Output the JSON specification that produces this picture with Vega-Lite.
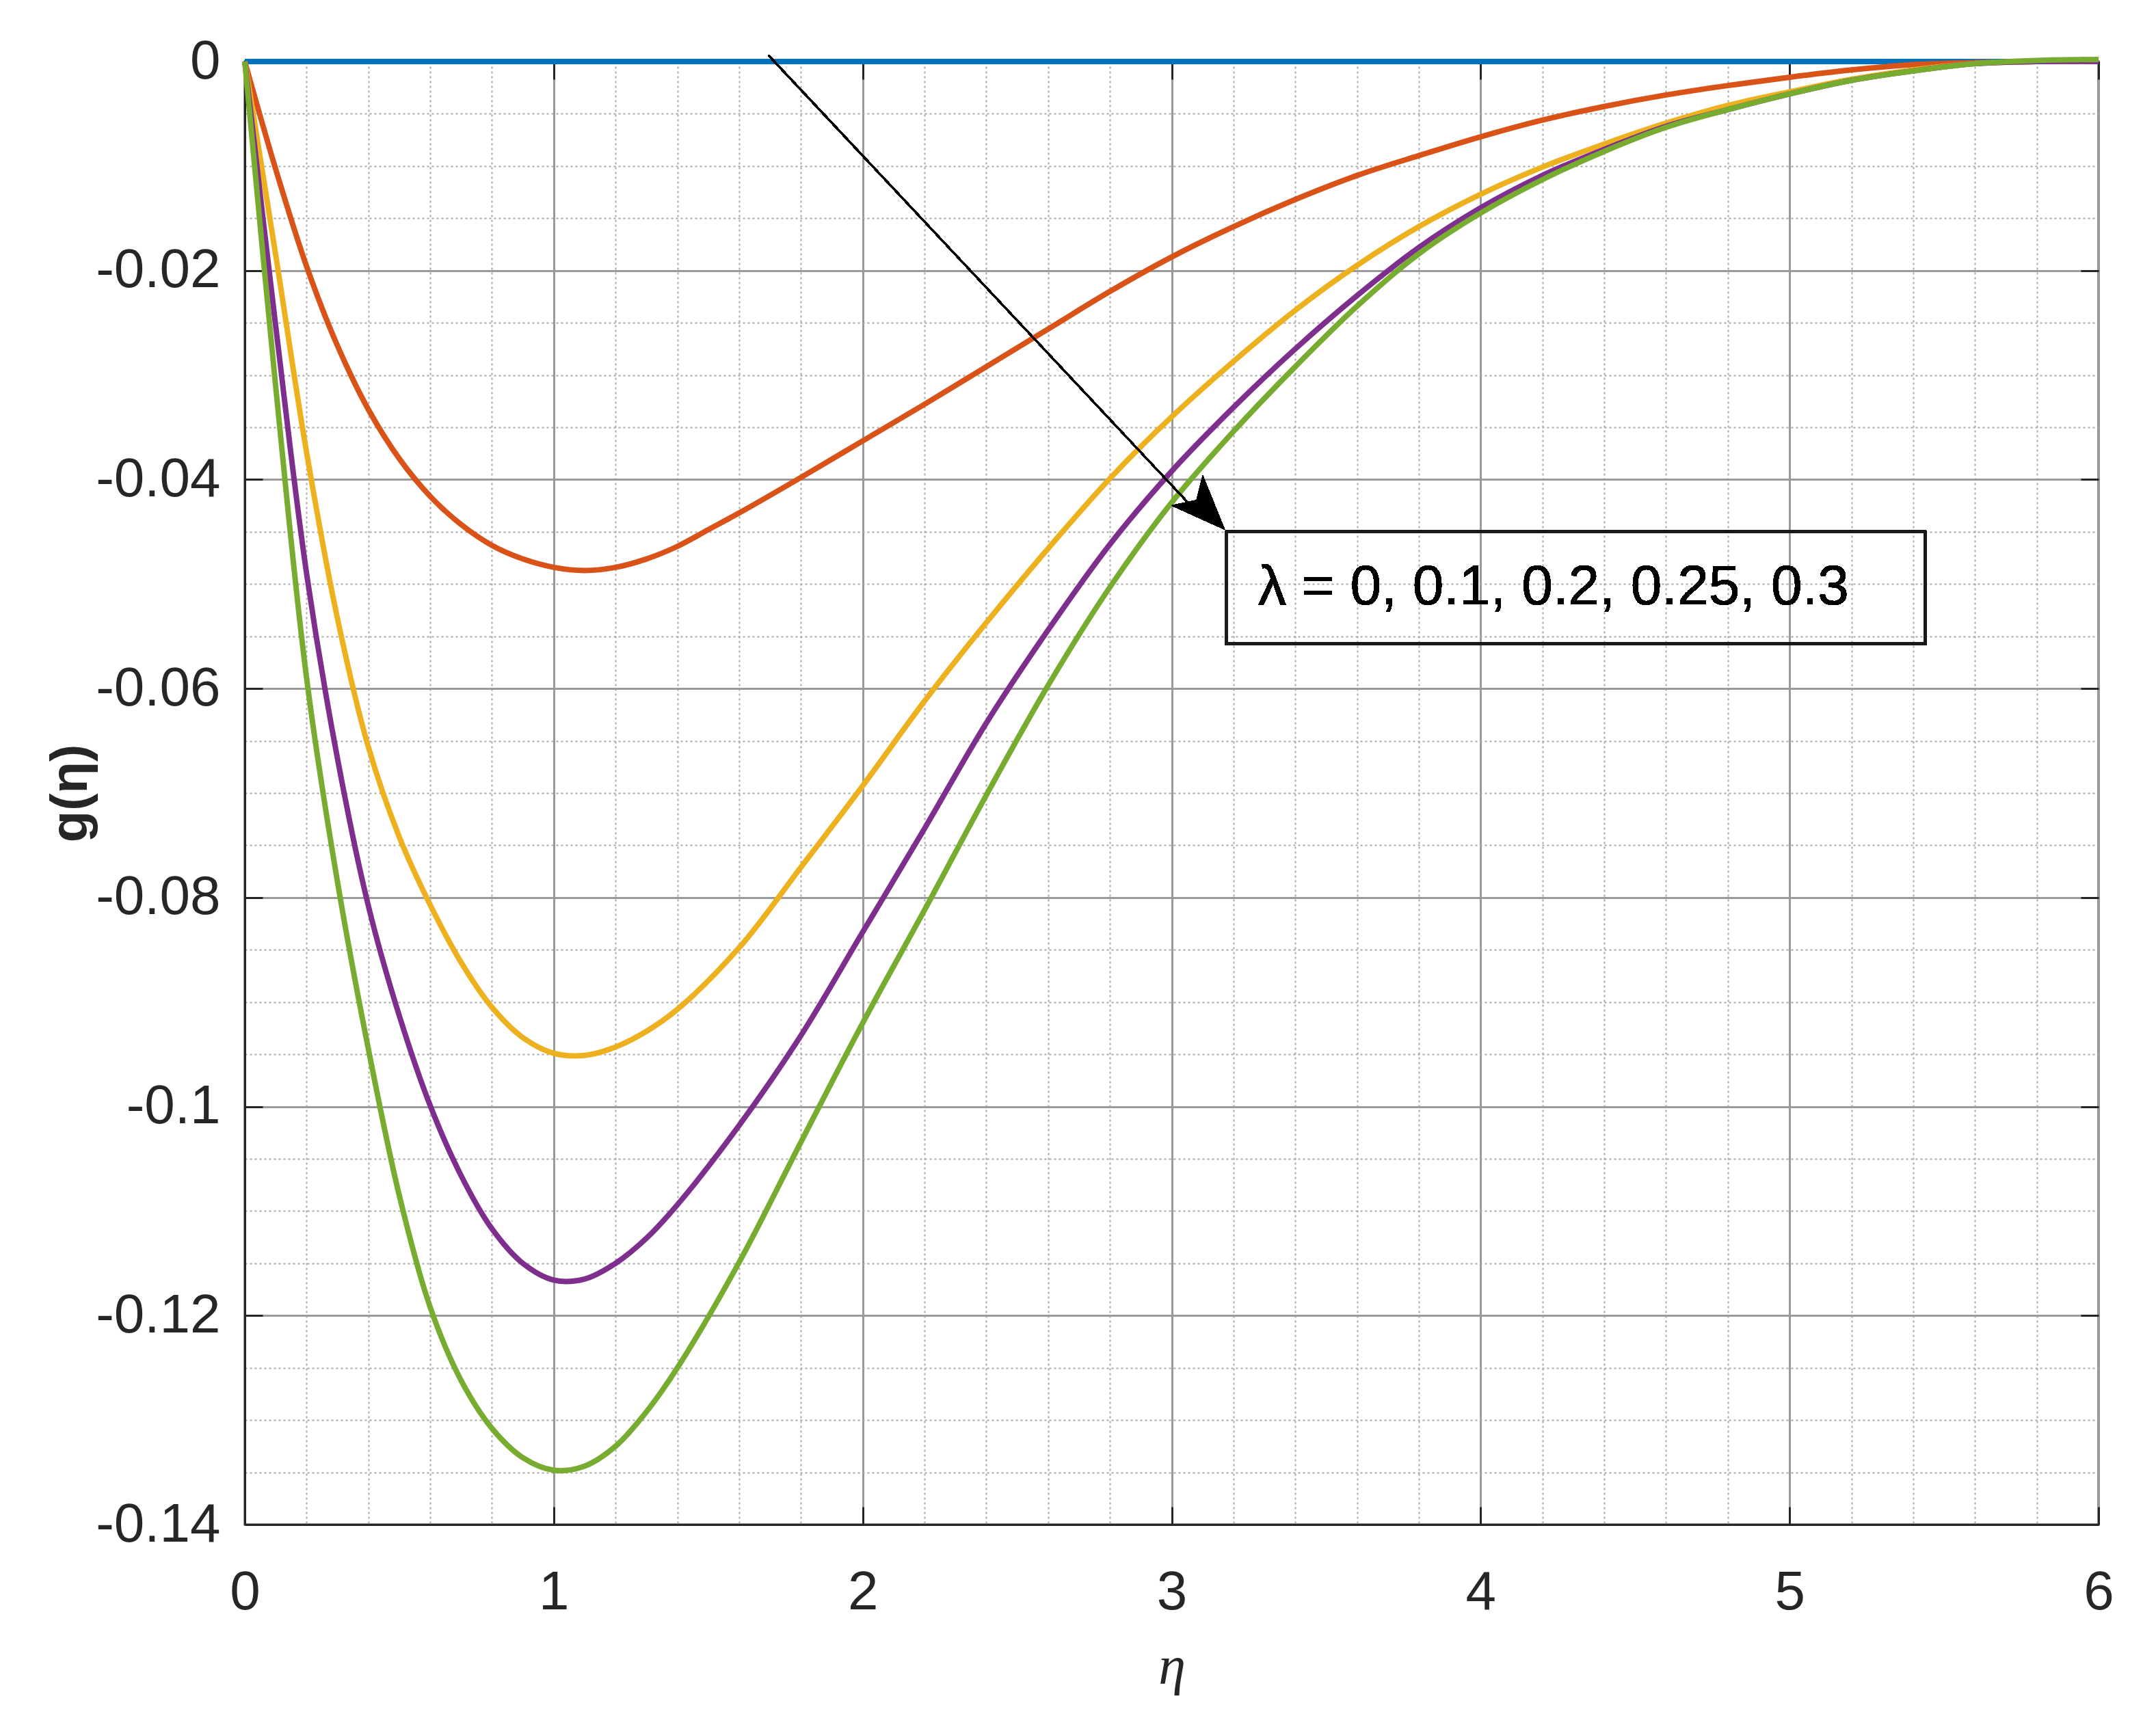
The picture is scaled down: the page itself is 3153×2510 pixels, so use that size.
{
  "$schema": "https://vega.github.io/schema/vega-lite/v6.json",
  "autosize": "none",
  "width": 2711,
  "height": 2140,
  "padding": {"left": 358, "top": 90, "right": 84, "bottom": 280},
  "background": "white",
  "config": {
    "font": "Liberation Sans",
    "view": {"stroke": "#262626", "strokeWidth": 3}
  },
  "data": {
    "values": [
      {"eta": 0, "g": 0, "lam": "0"},
      {"eta": 1, "g": 0, "lam": "0"},
      {"eta": 2, "g": 0, "lam": "0"},
      {"eta": 3, "g": 0, "lam": "0"},
      {"eta": 4, "g": 0, "lam": "0"},
      {"eta": 5, "g": 0, "lam": "0"},
      {"eta": 6, "g": 0, "lam": "0"},

      {"eta": 0, "g": 0, "lam": "0.1"},
      {"eta": 0.1, "g": -0.0103, "lam": "0.1"},
      {"eta": 0.2, "g": -0.0196, "lam": "0.1"},
      {"eta": 0.3, "g": -0.0272, "lam": "0.1"},
      {"eta": 0.4, "g": -0.0333, "lam": "0.1"},
      {"eta": 0.5, "g": -0.0380, "lam": "0.1"},
      {"eta": 0.6, "g": -0.0416, "lam": "0.1"},
      {"eta": 0.7, "g": -0.0443, "lam": "0.1"},
      {"eta": 0.8, "g": -0.0463, "lam": "0.1"},
      {"eta": 0.9, "g": -0.0476, "lam": "0.1"},
      {"eta": 1.0, "g": -0.0484, "lam": "0.1"},
      {"eta": 1.1, "g": -0.0487, "lam": "0.1"},
      {"eta": 1.2, "g": -0.0484, "lam": "0.1"},
      {"eta": 1.3, "g": -0.0476, "lam": "0.1"},
      {"eta": 1.4, "g": -0.0464, "lam": "0.1"},
      {"eta": 1.5, "g": -0.0448, "lam": "0.1"},
      {"eta": 1.6, "g": -0.0432, "lam": "0.1"},
      {"eta": 1.8, "g": -0.0398, "lam": "0.1"},
      {"eta": 2.0, "g": -0.0363, "lam": "0.1"},
      {"eta": 2.2, "g": -0.0328, "lam": "0.1"},
      {"eta": 2.4, "g": -0.0292, "lam": "0.1"},
      {"eta": 2.6, "g": -0.0256, "lam": "0.1"},
      {"eta": 2.8, "g": -0.0220, "lam": "0.1"},
      {"eta": 3.0, "g": -0.0187, "lam": "0.1"},
      {"eta": 3.2, "g": -0.0158, "lam": "0.1"},
      {"eta": 3.4, "g": -0.0132, "lam": "0.1"},
      {"eta": 3.6, "g": -0.0109, "lam": "0.1"},
      {"eta": 3.8, "g": -0.0090, "lam": "0.1"},
      {"eta": 4.0, "g": -0.0072, "lam": "0.1"},
      {"eta": 4.2, "g": -0.0056, "lam": "0.1"},
      {"eta": 4.4, "g": -0.0043, "lam": "0.1"},
      {"eta": 4.6, "g": -0.0032, "lam": "0.1"},
      {"eta": 4.8, "g": -0.0023, "lam": "0.1"},
      {"eta": 5.0, "g": -0.0015, "lam": "0.1"},
      {"eta": 5.2, "g": -0.0008, "lam": "0.1"},
      {"eta": 5.4, "g": -0.0003, "lam": "0.1"},
      {"eta": 5.6, "g": -0.0001, "lam": "0.1"},
      {"eta": 5.8, "g": 0, "lam": "0.1"},
      {"eta": 6.0, "g": 0, "lam": "0.1"},

      {"eta": 0, "g": 0, "lam": "0.2"},
      {"eta": 0.1, "g": -0.0185, "lam": "0.2"},
      {"eta": 0.2, "g": -0.0374, "lam": "0.2"},
      {"eta": 0.3, "g": -0.0533, "lam": "0.2"},
      {"eta": 0.4, "g": -0.0656, "lam": "0.2"},
      {"eta": 0.5, "g": -0.0742, "lam": "0.2"},
      {"eta": 0.6, "g": -0.0807, "lam": "0.2"},
      {"eta": 0.7, "g": -0.0862, "lam": "0.2"},
      {"eta": 0.8, "g": -0.0905, "lam": "0.2"},
      {"eta": 0.9, "g": -0.0934, "lam": "0.2"},
      {"eta": 1.0, "g": -0.0949, "lam": "0.2"},
      {"eta": 1.1, "g": -0.0951, "lam": "0.2"},
      {"eta": 1.2, "g": -0.0943, "lam": "0.2"},
      {"eta": 1.3, "g": -0.0928, "lam": "0.2"},
      {"eta": 1.4, "g": -0.0907, "lam": "0.2"},
      {"eta": 1.6, "g": -0.0848, "lam": "0.2"},
      {"eta": 1.8, "g": -0.0771, "lam": "0.2"},
      {"eta": 2.0, "g": -0.0693, "lam": "0.2"},
      {"eta": 2.2, "g": -0.0612, "lam": "0.2"},
      {"eta": 2.4, "g": -0.0537, "lam": "0.2"},
      {"eta": 2.6, "g": -0.0466, "lam": "0.2"},
      {"eta": 2.8, "g": -0.0399, "lam": "0.2"},
      {"eta": 3.0, "g": -0.0340, "lam": "0.2"},
      {"eta": 3.2, "g": -0.0287, "lam": "0.2"},
      {"eta": 3.4, "g": -0.0238, "lam": "0.2"},
      {"eta": 3.6, "g": -0.0195, "lam": "0.2"},
      {"eta": 3.8, "g": -0.0158, "lam": "0.2"},
      {"eta": 4.0, "g": -0.0127, "lam": "0.2"},
      {"eta": 4.2, "g": -0.0101, "lam": "0.2"},
      {"eta": 4.4, "g": -0.0079, "lam": "0.2"},
      {"eta": 4.6, "g": -0.0059, "lam": "0.2"},
      {"eta": 4.8, "g": -0.0042, "lam": "0.2"},
      {"eta": 5.0, "g": -0.0029, "lam": "0.2"},
      {"eta": 5.2, "g": -0.0017, "lam": "0.2"},
      {"eta": 5.4, "g": -0.0008, "lam": "0.2"},
      {"eta": 5.6, "g": -0.0002, "lam": "0.2"},
      {"eta": 5.8, "g": 0, "lam": "0.2"},
      {"eta": 6.0, "g": 0, "lam": "0.2"},

      {"eta": 0, "g": 0, "lam": "0.25"},
      {"eta": 0.1, "g": -0.0253, "lam": "0.25"},
      {"eta": 0.2, "g": -0.0490, "lam": "0.25"},
      {"eta": 0.3, "g": -0.0667, "lam": "0.25"},
      {"eta": 0.4, "g": -0.0808, "lam": "0.25"},
      {"eta": 0.5, "g": -0.0913, "lam": "0.25"},
      {"eta": 0.6, "g": -0.0999, "lam": "0.25"},
      {"eta": 0.7, "g": -0.1066, "lam": "0.25"},
      {"eta": 0.8, "g": -0.1117, "lam": "0.25"},
      {"eta": 0.9, "g": -0.1150, "lam": "0.25"},
      {"eta": 1.0, "g": -0.1166, "lam": "0.25"},
      {"eta": 1.1, "g": -0.1165, "lam": "0.25"},
      {"eta": 1.2, "g": -0.1150, "lam": "0.25"},
      {"eta": 1.3, "g": -0.1126, "lam": "0.25"},
      {"eta": 1.4, "g": -0.1094, "lam": "0.25"},
      {"eta": 1.6, "g": -0.1018, "lam": "0.25"},
      {"eta": 1.8, "g": -0.0932, "lam": "0.25"},
      {"eta": 2.0, "g": -0.0833, "lam": "0.25"},
      {"eta": 2.2, "g": -0.0734, "lam": "0.25"},
      {"eta": 2.4, "g": -0.0633, "lam": "0.25"},
      {"eta": 2.6, "g": -0.0544, "lam": "0.25"},
      {"eta": 2.8, "g": -0.0462, "lam": "0.25"},
      {"eta": 3.0, "g": -0.0392, "lam": "0.25"},
      {"eta": 3.2, "g": -0.0331, "lam": "0.25"},
      {"eta": 3.4, "g": -0.0275, "lam": "0.25"},
      {"eta": 3.6, "g": -0.0224, "lam": "0.25"},
      {"eta": 3.8, "g": -0.0178, "lam": "0.25"},
      {"eta": 4.0, "g": -0.0140, "lam": "0.25"},
      {"eta": 4.2, "g": -0.0109, "lam": "0.25"},
      {"eta": 4.4, "g": -0.0084, "lam": "0.25"},
      {"eta": 4.6, "g": -0.0062, "lam": "0.25"},
      {"eta": 4.8, "g": -0.0046, "lam": "0.25"},
      {"eta": 5.0, "g": -0.0031, "lam": "0.25"},
      {"eta": 5.2, "g": -0.0018, "lam": "0.25"},
      {"eta": 5.4, "g": -0.0009, "lam": "0.25"},
      {"eta": 5.6, "g": -0.0002, "lam": "0.25"},
      {"eta": 5.8, "g": 0, "lam": "0.25"},
      {"eta": 6.0, "g": 0, "lam": "0.25"},

      {"eta": 0, "g": 0, "lam": "0.3"},
      {"eta": 0.1, "g": -0.0311, "lam": "0.3"},
      {"eta": 0.2, "g": -0.0590, "lam": "0.3"},
      {"eta": 0.3, "g": -0.0785, "lam": "0.3"},
      {"eta": 0.4, "g": -0.0945, "lam": "0.3"},
      {"eta": 0.5, "g": -0.1085, "lam": "0.3"},
      {"eta": 0.6, "g": -0.1192, "lam": "0.3"},
      {"eta": 0.7, "g": -0.1262, "lam": "0.3"},
      {"eta": 0.8, "g": -0.1308, "lam": "0.3"},
      {"eta": 0.9, "g": -0.1336, "lam": "0.3"},
      {"eta": 1.0, "g": -0.1348, "lam": "0.3"},
      {"eta": 1.1, "g": -0.1344, "lam": "0.3"},
      {"eta": 1.2, "g": -0.1325, "lam": "0.3"},
      {"eta": 1.3, "g": -0.1292, "lam": "0.3"},
      {"eta": 1.4, "g": -0.1250, "lam": "0.3"},
      {"eta": 1.6, "g": -0.1149, "lam": "0.3"},
      {"eta": 1.8, "g": -0.1034, "lam": "0.3"},
      {"eta": 2.0, "g": -0.0920, "lam": "0.3"},
      {"eta": 2.2, "g": -0.0812, "lam": "0.3"},
      {"eta": 2.4, "g": -0.0702, "lam": "0.3"},
      {"eta": 2.6, "g": -0.0597, "lam": "0.3"},
      {"eta": 2.8, "g": -0.0503, "lam": "0.3"},
      {"eta": 3.0, "g": -0.0422, "lam": "0.3"},
      {"eta": 3.2, "g": -0.0354, "lam": "0.3"},
      {"eta": 3.4, "g": -0.0292, "lam": "0.3"},
      {"eta": 3.6, "g": -0.0234, "lam": "0.3"},
      {"eta": 3.8, "g": -0.0184, "lam": "0.3"},
      {"eta": 4.0, "g": -0.0145, "lam": "0.3"},
      {"eta": 4.2, "g": -0.0113, "lam": "0.3"},
      {"eta": 4.4, "g": -0.0086, "lam": "0.3"},
      {"eta": 4.6, "g": -0.0063, "lam": "0.3"},
      {"eta": 4.8, "g": -0.0046, "lam": "0.3"},
      {"eta": 5.0, "g": -0.0031, "lam": "0.3"},
      {"eta": 5.2, "g": -0.0018, "lam": "0.3"},
      {"eta": 5.4, "g": -0.0009, "lam": "0.3"},
      {"eta": 5.6, "g": -0.0002, "lam": "0.3"},
      {"eta": 5.8, "g": 0.0001, "lam": "0.3"},
      {"eta": 6.0, "g": 0.0002, "lam": "0.3"}
    ]
  },
  "resolve": {"axis": {"x": "independent", "y": "independent"}},
  "layer": [
    {
      "mark": {"type": "line", "opacity": 0},
      "encoding": {
        "x": {
          "field": "eta", "type": "quantitative",
          "scale": {"domain": [0, 6], "nice": false, "zero": false},
          "axis": {
            "orient": "bottom",
            "values": [0, 0.2, 0.4, 0.6, 0.8, 1, 1.2, 1.4, 1.6, 1.8, 2, 2.2, 2.4, 2.6, 2.8, 3, 3.2, 3.4, 3.6, 3.8, 4, 4.2, 4.4, 4.6, 4.8, 5, 5.2, 5.4, 5.6, 5.8, 6],
            "labels": false, "ticks": false, "domain": false, "title": null,
            "grid": true, "gridColor": "#a6a6a6", "gridWidth": 2, "gridDash": [3, 4]
          }
        },
        "y": {
          "field": "g", "type": "quantitative",
          "scale": {"domain": [-0.14, 0], "nice": false, "zero": false},
          "axis": {
            "orient": "left",
            "values": [-0.14, -0.135, -0.13, -0.125, -0.12, -0.115, -0.11, -0.105, -0.1, -0.095, -0.09, -0.085, -0.08, -0.075, -0.07, -0.065, -0.06, -0.055, -0.05, -0.045, -0.04, -0.035, -0.03, -0.025, -0.02, -0.015, -0.01, -0.005, 0],
            "labels": false, "ticks": false, "domain": false, "title": null,
            "grid": true, "gridColor": "#a6a6a6", "gridWidth": 2, "gridDash": [3, 4]
          }
        },
        "detail": {"field": "lam", "type": "nominal"}
      }
    },
    {
      "mark": {"type": "line", "opacity": 0},
      "encoding": {
        "x": {
          "field": "eta", "type": "quantitative",
          "scale": {"domain": [0, 6], "nice": false, "zero": false},
          "axis": {
            "orient": "top",
            "values": [0, 1, 2, 3, 4, 5, 6],
            "labels": false, "grid": false, "domain": false, "title": null,
            "ticks": true, "tickSize": -26, "tickColor": "#262626", "tickWidth": 3
          }
        },
        "y": {
          "field": "g", "type": "quantitative",
          "scale": {"domain": [-0.14, 0], "nice": false, "zero": false},
          "axis": {
            "orient": "right",
            "values": [-0.14, -0.12, -0.1, -0.08, -0.06, -0.04, -0.02, 0],
            "labels": false, "grid": false, "domain": false, "title": null,
            "ticks": true, "tickSize": -26, "tickColor": "#262626", "tickWidth": 3
          }
        },
        "detail": {"field": "lam", "type": "nominal"}
      }
    },
    {
      "mark": {"type": "line", "strokeWidth": 8, "strokeCap": "butt", "interpolate": "catmull-rom", "clip": false},
      "encoding": {
        "x": {
          "field": "eta", "type": "quantitative",
          "scale": {"domain": [0, 6], "nice": false, "zero": false},
          "axis": {
            "orient": "bottom",
            "values": [0, 1, 2, 3, 4, 5, 6],
            "labelExpr": "'' + datum.value",
            "labelFlush": false, "labelOverlap": false, "labelLimit": 0,
            "grid": true, "gridColor": "#9a9a9a", "gridWidth": 3,
            "ticks": true, "tickSize": -26, "tickColor": "#262626", "tickWidth": 3,
            "domain": true, "domainColor": "#262626", "domainWidth": 3,
            "labelFontSize": 80, "labelColor": "#262626", "labelPadding": 86, "labelFont": "Liberation Sans",
            "title": "η", "titleFontSize": 80, "titleFontStyle": "italic", "titleFontWeight": "normal",
            "titleColor": "#262626", "titlePadding": 30, "titleFont": "Liberation Serif"
          }
        },
        "y": {
          "field": "g", "type": "quantitative",
          "scale": {"domain": [-0.14, 0], "nice": false, "zero": false},
          "axis": {
            "orient": "left",
            "values": [-0.14, -0.12, -0.1, -0.08, -0.06, -0.04, -0.02, 0],
            "labelExpr": "'' + datum.value",
            "labelFlush": false, "labelOverlap": false, "labelLimit": 0,
            "grid": true, "gridColor": "#9a9a9a", "gridWidth": 3,
            "ticks": true, "tickSize": -26, "tickColor": "#262626", "tickWidth": 3,
            "domain": true, "domainColor": "#262626", "domainWidth": 3,
            "labelFontSize": 80, "labelColor": "#262626", "labelPadding": 62, "labelFont": "Liberation Sans",
            "title": "g(η)", "titleFontSize": 76, "titleFontWeight": "bold",
            "titleColor": "#262626", "titlePadding": 16, "titleFont": "Liberation Sans"
          }
        },
        "color": {
          "field": "lam", "type": "nominal",
          "scale": {"domain": ["0", "0.1", "0.2", "0.25", "0.3"], "range": ["#0072BD", "#D95319", "#EDB120", "#7E2F8E", "#77AC30"]},
          "legend": null
        }
      }
    },
    {
      "mark": {"type": "rule", "color": "black", "strokeWidth": 2.5},
      "encoding": {
        "x": {"datum": 1.695, "type": "quantitative", "scale": {"domain": [0, 6], "nice": false, "zero": false}, "axis": null},
        "y": {"datum": 0.0006, "type": "quantitative", "scale": {"domain": [-0.14, 0], "nice": false, "zero": false}, "axis": null},
        "x2": {"datum": 3.10},
        "y2": {"datum": -0.0437}
      }
    },
    {
      "mark": {"type": "point", "shape": "M0,0 L-2,-0.8 L-1.5,0 L-2,0.8 Z", "filled": true, "color": "black", "opacity": 1, "size": 6400, "angle": 46.2, "strokeWidth": 0},
      "encoding": {
        "x": {"datum": 3.172, "type": "quantitative", "scale": {"domain": [0, 6], "nice": false, "zero": false}, "axis": null},
        "y": {"datum": -0.0448, "type": "quantitative", "scale": {"domain": [-0.14, 0], "nice": false, "zero": false}, "axis": null}
      }
    },
    {
      "mark": {"type": "rect", "fill": null, "fillOpacity": 0, "stroke": "#1a1a1a", "strokeWidth": 4},
      "encoding": {
        "x": {"datum": 3.178, "type": "quantitative", "scale": {"domain": [0, 6], "nice": false, "zero": false}, "axis": null},
        "x2": {"datum": 5.438},
        "y": {"datum": -0.0450, "type": "quantitative", "scale": {"domain": [-0.14, 0], "nice": false, "zero": false}, "axis": null},
        "y2": {"datum": -0.0557}
      }
    },
    {
      "mark": {"type": "text", "text": "λ = 0, 0.1, 0.2, 0.25, 0.3", "align": "left", "baseline": "middle", "fontSize": 82, "font": "Liberation Sans", "color": "black"},
      "encoding": {
        "x": {"datum": 3.28, "type": "quantitative", "scale": {"domain": [0, 6], "nice": false, "zero": false}, "axis": null},
        "y": {"datum": -0.0503, "type": "quantitative", "scale": {"domain": [-0.14, 0], "nice": false, "zero": false}, "axis": null}
      }
    }
  ]
}
